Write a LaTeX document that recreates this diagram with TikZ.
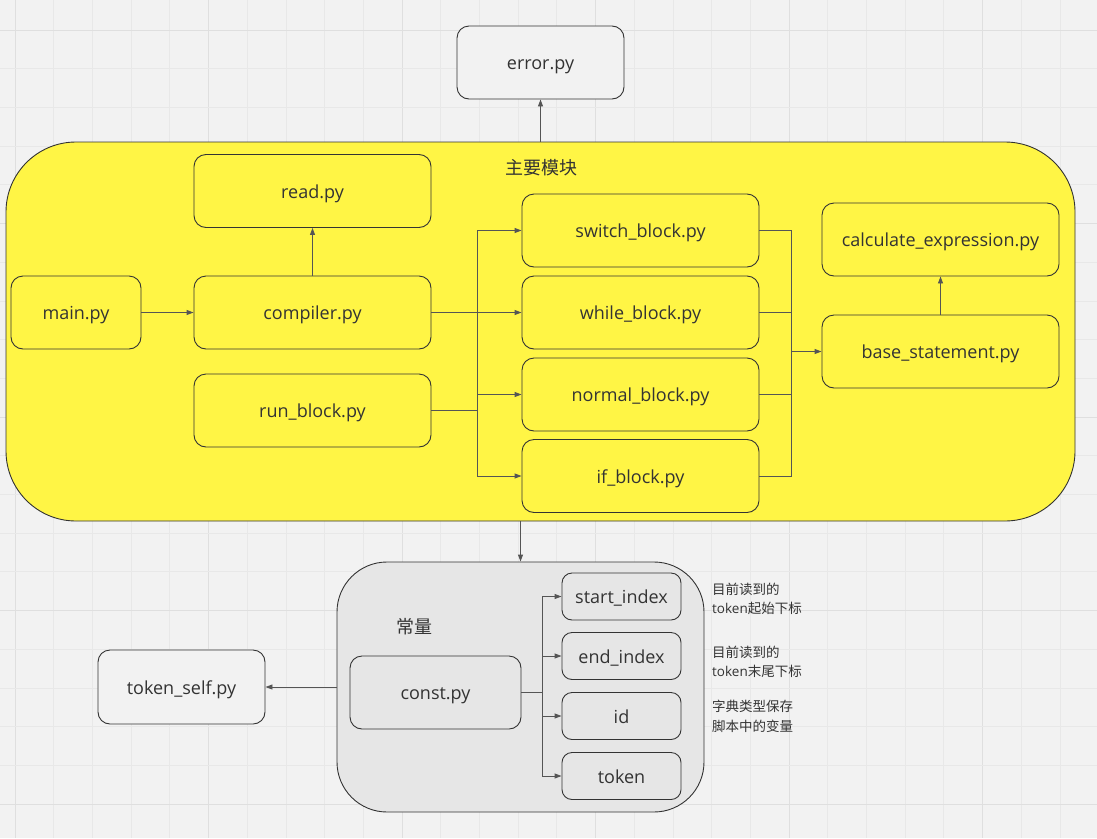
\documentclass[tikz,border=0pt]{standalone}
\usepackage{fontspec}
\setmainfont{Open Sans}
\newfontfamily\cjk{Noto Sans CJK SC}
\usetikzlibrary{arrows.meta}
\definecolor{bg}{HTML}{F2F2F2}
\definecolor{gridminor}{HTML}{E8E8E8}
\definecolor{gridmajor}{HTML}{DFDFDF}
\definecolor{ylw}{HTML}{FFF545}
\definecolor{gry}{HTML}{E6E6E6}
\definecolor{txt}{HTML}{333333}
\definecolor{edge}{HTML}{333333}
\definecolor{conn}{HTML}{555555}
\tikzset{
  filebox/.style={draw=edge, line width=0.9pt, rounded corners=12pt, fill=ylw, text=txt,
    font=\fontsize{18}{22}\selectfont, inner sep=0pt, minimum width=237pt, minimum height=73pt,
    text height=14pt, text depth=0pt},
  whitebox/.style={filebox, fill=bg},
  greybox/.style={filebox, fill=gry},
  smallbox/.style={filebox, fill=gry, rounded corners=10pt, minimum width=119pt, minimum height=47pt},
  container/.style={draw=edge, line width=0.9pt, inner sep=0pt},
  lbl/.style={text=txt, inner sep=0pt, font=\fontsize{18}{22}\selectfont},
  note/.style={text=txt, inner sep=0pt, align=left, anchor=north west, font=\fontsize{13.5}{19.5}\selectfont},
  arr/.style={draw=conn, line width=0.9pt, -{Triangle[length=7pt,width=5pt]}},
  ln/.style={draw=conn, line width=0.9pt},
}
\begin{document}
\begin{tikzpicture}[x=1pt,y=-1pt]
\useasboundingbox (0,0) rectangle (1097,838);
\fill[bg] (0,0) rectangle (1097,838);
% grid
\foreach \i in {0,...,27}{
  \pgfmathsetmacro\gx{15+38.7*\i}
  \pgfmathtruncatemacro\m{mod(\i,5)}
  \ifnum\m=0 \draw[gridmajor, line width=1pt] (\gx,0) -- (\gx,838);
  \else \draw[gridminor, line width=0.8pt] (\gx,0) -- (\gx,838); \fi
}
\foreach \i in {0,...,20}{
  \pgfmathsetmacro\gy{30+38.7*\i}
  \pgfmathtruncatemacro\m{mod(\i,5)}
  \ifnum\m=0 \draw[gridmajor, line width=1pt] (0,\gy) -- (1097,\gy);
  \else \draw[gridminor, line width=0.8pt] (0,\gy) -- (1097,\gy); \fi
}
% containers
\node[container, fill=ylw, rounded corners=70pt, minimum width=1069pt, minimum height=379pt] (mainc) at (540.5,331.5) {};
\node[lbl] (mainlbl) at (541,167.5) {\cjk 主要模块};
\node[container, fill=gry, rounded corners=50pt, minimum width=367pt, minimum height=250pt] (constc) at (520.5,687) {};
\node[lbl] (constlbl) at (414,626.5) {\cjk 常量};
% nodes
\node[whitebox, minimum width=167pt] (error) at (540.5,62.5) {error.py};
\node[filebox] (read) at (312.5,191) {read.py};
\node[filebox, minimum width=130pt] (mainpy) at (76,312.5) {main.py};
\node[filebox] (compiler) at (312.5,312.5) {compiler.py};
\node[filebox] (run) at (312.5,410.5) {run\_block.py};
\node[filebox] (switch) at (640.5,230.5) {switch\_block.py};
\node[filebox] (while) at (640.5,312.5) {while\_block.py};
\node[filebox] (normal) at (640.5,394.5) {normal\_block.py};
\node[filebox] (if) at (640.5,476) {if\_block.py};
\node[filebox] (calc) at (940.5,239.5) {calculate\_expression.py};
\node[filebox] (base) at (940.5,351.5) {base\_statement.py};
\node[greybox, minimum width=171pt] (const) at (435.5,692.5) {const.py};
\node[smallbox] (start) at (621.5,596.5) {start\_index};
\node[smallbox] (end) at (621.5,656) {end\_index};
\node[smallbox] (id) at (621.5,716) {id};
\node[smallbox] (token) at (621.5,776) {token};
\node[whitebox, minimum width=167pt, minimum height=74pt] (tokself) at (181.5,687) {token\_self.py};
% notes
\node[note] (n1) at (712,582.5) {{\cjk 目前读到的}\\token{\cjk 起始下标}};
\node[note] (n2) at (712,645.5) {{\cjk 目前读到的}\\token{\cjk 末尾下标}};
\node[note] (n3) at (712,700) {{\cjk 字典类型保存}\\{\cjk 脚本中的变量}};
% connectors
\draw[arr] (mainc.north) -- (error.south);
\draw[arr] (mainpy.east) -- (compiler.west);
\draw[arr] (compiler.north) -- (read.south);
\coordinate (bl) at (477,312.5);
\draw[ln] (compiler.east) -- (bl);
\draw[ln] (run.east) -- (run.east -| bl);
\draw[arr] (bl) |- (switch.west);
\draw[arr] (bl) -- (while.west);
\draw[arr] (bl) |- (normal.west);
\draw[arr] (bl) |- (if.west);
\coordinate (br) at (791,351.5);
\draw[ln] (switch.east) -| (br);
\draw[ln] (while.east) -| (br);
\draw[ln] (normal.east) -| (br);
\draw[ln] (if.east) -| (br);
\draw[arr] (br) -- (base.west);
\draw[arr] (base.north) -- (calc.south);
\draw[arr] (constc.north |- mainc.south) -- (constc.north);
\draw[arr] (constc.west) -- (tokself.east);
\coordinate (bc) at (542,692.5);
\draw[ln] (const.east) -- (bc);
\draw[arr] (bc) |- (start.west);
\draw[arr] (bc) |- (end.west);
\draw[arr] (bc) |- (id.west);
\draw[arr] (bc) |- (token.west);
\end{tikzpicture}
\end{document}
